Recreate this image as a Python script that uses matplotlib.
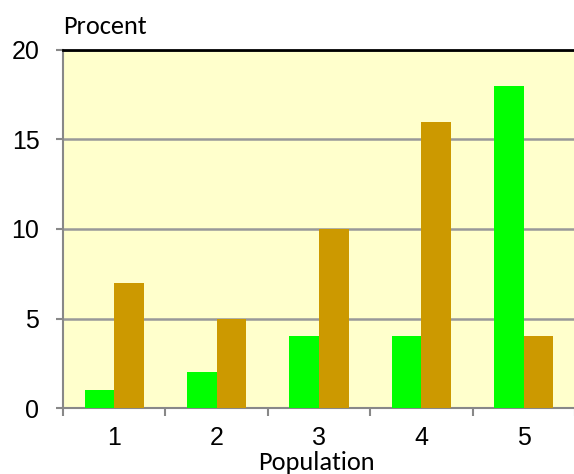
import matplotlib.pyplot as plt
import numpy as np

populations = ["1", "2", "3", "4", "5"]
green_values = [1, 2, 4, 4, 18]
gold_values = [7, 5, 10, 16, 4]
y_ticks = [0, 5, 10, 15, 20]

fig = plt.figure(figsize=(5.74, 4.74), dpi=100)
ax = fig.add_axes([63 / 574, 66 / 474, 512 / 574, 358 / 474])
ax.set_facecolor("#FFFFCC")

x = np.arange(len(populations))
w = 0.29
ax.bar(x - w / 2, green_values, width=w, color="#00FF00", zorder=3)
ax.bar(x + w / 2, gold_values, width=w, color="#CC9900", zorder=3)

ax.set_xlim(-0.5, len(populations) - 0.5)
ax.set_ylim(0, 20)
ax.set_yticks(y_ticks)
ax.set_yticklabels([str(v) for v in y_ticks], fontsize=18, family="Liberation Sans")
ax.yaxis.grid(True, color="#999999", linewidth=1.8, zorder=1)
ax.set_axisbelow(True)

# category labels centered, ticks on the boundaries
ax.set_xticks(x)
ax.set_xticklabels(populations, fontsize=18, family="Liberation Sans")
ax.tick_params(axis="x", length=0, pad=13)
ax.set_xticks(np.arange(len(populations) + 1) - 0.5, minor=True)
ax.tick_params(axis="x", which="minor", length=6, width=1.5, color="#888888")
ax.tick_params(axis="y", length=5, width=1.5, color="#888888", pad=12)

for side in ["left", "bottom"]:
    ax.spines[side].set_color("#888888")
    ax.spines[side].set_linewidth(1.5)
ax.spines["top"].set_color("black")
ax.spines["top"].set_linewidth(2)
ax.spines["right"].set_visible(False)

fig.text(63 / 574, 1 - 27 / 474, "Procent", fontsize=19, family=["Carlito", "Lato"],
         ha="left", va="center")
fig.text(316 / 574, 1 - 463 / 474, "Population", fontsize=19, family=["Carlito", "Lato"],
         ha="center", va="center")

fig.savefig("out.png", dpi=100)
